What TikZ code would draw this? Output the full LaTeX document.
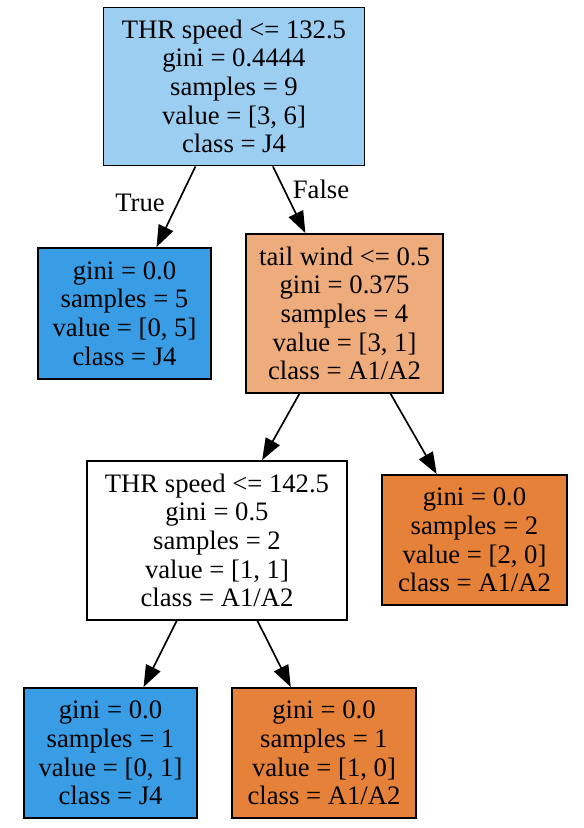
\documentclass[tikz,border=0pt]{standalone}
\usepackage{fontspec}
\setmainfont{Liberation Serif}
\usetikzlibrary{arrows.meta}
\definecolor{cblue}{HTML}{399DE5}
\definecolor{corange}{HTML}{E58139}
\definecolor{lblue}{HTML}{9CCEF2}
\definecolor{lorange}{HTML}{EEAB7B}
\tikzset{
  tnode/.style={draw=black, line width=1.1pt, rectangle, align=center, inner sep=0pt,
    font=\fontsize{16}{17.2}\selectfont},
  tedge/.style={line width=1pt, -{Triangle[length=13pt,width=9.5pt]}},
  elabel/.style={font=\fontsize{16}{17.2}\selectfont}
}
\begin{document}
\begin{tikzpicture}[x=0.6pt,y=-0.6pt]
\useasboundingbox (0,0) rectangle (584,828);
\node[tnode, fill=lblue, minimum width=261*0.6pt, minimum height=158*0.6pt] (root) at (234,86.5)
  {THR speed <= 132.5\\gini = 0.4444\\samples = 9\\value = [3, 6]\\class = J4};
\node[tnode, fill=cblue, minimum width=173*0.6pt, minimum height=131*0.6pt] (l) at (124.5,313.5)
  {gini = 0.0\\samples = 5\\value = [0, 5]\\class = J4};
\node[tnode, fill=lorange, minimum width=197*0.6pt, minimum height=159*0.6pt] (r) at (344.5,313.5)
  {tail wind <= 0.5\\gini = 0.375\\samples = 4\\value = [3, 1]\\class = A1/A2};
\node[tnode, fill=white, minimum width=260*0.6pt, minimum height=159*0.6pt] (rl) at (217,540.5)
  {THR speed <= 142.5\\gini = 0.5\\samples = 2\\value = [1, 1]\\class = A1/A2};
\node[tnode, fill=corange, minimum width=185*0.6pt, minimum height=130*0.6pt] (rr) at (474.5,540)
  {gini = 0.0\\samples = 2\\value = [2, 0]\\class = A1/A2};
\node[tnode, fill=cblue, minimum width=173*0.6pt, minimum height=130*0.6pt] (rll) at (110.5,753)
  {gini = 0.0\\samples = 1\\value = [0, 1]\\class = J4};
\node[tnode, fill=corange, minimum width=184*0.6pt, minimum height=130*0.6pt] (rlr) at (324,753)
  {gini = 0.0\\samples = 1\\value = [1, 0]\\class = A1/A2};
\draw[tedge] (root) -- (l);
\draw[tedge] (root) -- (r);
\draw[tedge] (r) -- (rl);
\draw[tedge] (r) -- (rr);
\draw[tedge] (rl) -- (rll);
\draw[tedge] (rl) -- (rlr);
\node[elabel] (t) at (140,203) {True};
\node[elabel] (f) at (321,189) {False};
\end{tikzpicture}
\end{document}
